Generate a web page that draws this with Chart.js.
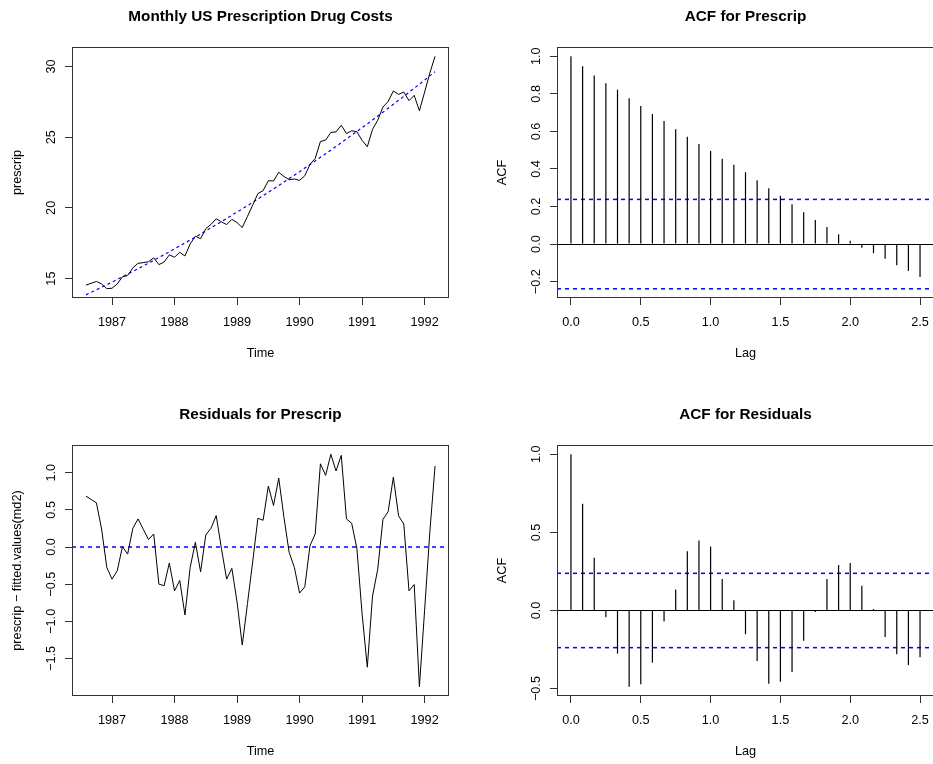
<!DOCTYPE html>
<html>
<head>
<meta charset="utf-8">
<title>Prescription drug costs</title>
<script src="https://cdn.jsdelivr.net/npm/chart.js@4.4.1/dist/chart.umd.min.js"></script>
<style>
    html, body { margin: 0; padding: 0; background: #fff; }
    body { position: relative; width: 933px; height: 764px; overflow: hidden; }
    canvas.panel { position: absolute; }
</style>
</head>
<body>
<canvas id="seriesChart" class="panel" width="485" height="398" style="left:0;top:0"></canvas>
<canvas id="acfChart" class="panel" width="485" height="398" style="left:485px;top:0"></canvas>
<canvas id="residChart" class="panel" width="485" height="398" style="left:0;top:398px"></canvas>
<canvas id="residAcfChart" class="panel" width="485" height="398" style="left:485px;top:398px"></canvas>
<script>
// monthly series, Aug 1986 .. Mar 1992
const startYear = 1986;
const startMonth = 8;

const prescrip = [
    14.54, 14.67, 14.80, 14.63, 14.29, 14.32, 14.62, 15.13, 15.22, 15.76, 16.08, 16.13,
    16.19, 16.47, 15.99, 16.17, 16.68, 16.51, 16.86, 16.60, 17.45, 18.00, 17.82, 18.53,
    18.84, 19.23, 19.01, 18.82, 19.19, 18.96, 18.61, 19.40, 20.19, 21.01, 21.22, 21.92,
    21.90, 22.51, 22.22, 21.99, 22.04, 21.94, 22.27, 23.08, 23.49, 24.69, 24.79, 25.33,
    25.37, 25.84, 25.25, 25.45, 25.38, 24.77, 24.32, 25.55, 26.19, 27.13, 27.52, 28.26,
    28.02, 28.19, 27.58, 27.95, 26.86, 28.18, 29.53, 30.71
];

// fitted values of md2
const fittedMd2 = [
    13.85, 14.03, 14.21, 14.39, 14.57, 14.75, 14.94, 15.13, 15.32, 15.51, 15.70, 15.90,
    16.09, 16.29, 16.49, 16.69, 16.90, 17.10, 17.31, 17.52, 17.73, 17.94, 18.15, 18.37,
    18.59, 18.81, 19.03, 19.25, 19.48, 19.70, 19.93, 20.16, 20.39, 20.63, 20.86, 21.10,
    21.34, 21.58, 21.82, 22.07, 22.31, 22.56, 22.81, 23.06, 23.31, 23.57, 23.82, 24.08,
    24.34, 24.60, 24.87, 25.13, 25.40, 25.67, 25.94, 26.21, 26.49, 26.76, 27.04, 27.32,
    27.60, 27.88, 28.17, 28.46, 28.74, 29.03, 29.33, 29.62
];

const residMd2 = [
    0.685, 0.64, 0.595, 0.243, -0.275, -0.432, -0.32, 0.005, -0.095, 0.252, 0.378, 0.239,
    0.10, 0.176, -0.50, -0.52, -0.216, -0.59, -0.45, -0.914, -0.275, 0.063, -0.333, 0.162,
    0.252, 0.423, -0.02, -0.432, -0.288, -0.74, -1.32, -0.76, -0.20, 0.387, 0.36, 0.82,
    0.559, 0.928, 0.40, -0.072, -0.275, -0.62, -0.536, 0.018, 0.176, 1.12, 0.964, 1.248,
    1.023, 1.234, 0.378, 0.32, -0.02, -0.90, -1.617, -0.66, -0.30, 0.37, 0.477, 0.94,
    0.42, 0.31, -0.59, -0.505, -1.88, -0.85, 0.20, 1.09
];

// autocorrelations, lags 0..30 months
const acfPrescrip = [
    1.0, 0.947, 0.898, 0.857, 0.822, 0.777, 0.736, 0.693, 0.656, 0.611, 0.572,
    0.533, 0.496, 0.455, 0.422, 0.383, 0.340, 0.298, 0.257, 0.212, 0.169,
    0.128, 0.091, 0.052, 0.018, -0.020, -0.048, -0.078, -0.112, -0.143, -0.175
];
const acfResid = [
    1.0, 0.683, 0.338, -0.043, -0.276, -0.488, -0.473, -0.334, -0.071, 0.135, 0.379,
    0.448, 0.409, 0.201, 0.066, -0.152, -0.323, -0.469, -0.456, -0.394, -0.193,
    -0.009, 0.201, 0.291, 0.304, 0.158, 0.009, -0.169, -0.281, -0.349, -0.300
];
const ciBound = 0.238;

const yearTicks = [1987, 1988, 1989, 1990, 1991, 1992];
const lagTicks = [0, 0.5, 1, 1.5, 2, 2.5];
const prescripTicks = [15, 20, 25, 30];
const residTicks = [-1.5, -1, -0.5, 0, 0.5, 1];
const acfPrescripTicks = [-0.2, 0, 0.2, 0.4, 0.6, 0.8, 1];
const acfResidTicks = [-0.5, 0, 0.5, 1];

const FONT = '"Liberation Sans", Arial, Helvetica, sans-serif';
const AXIS_SIZE = 12.7;
const BLUE = '#0000ff';
Chart.defaults.font.family = FONT;
Chart.defaults.font.size = AXIS_SIZE;
Chart.defaults.color = '#000';

const monthTime = i => startYear + (startMonth - 1 + i) / 12;
const minus = s => s.replace('-', '\u2212');
const fmt1 = v => minus(v.toFixed(1));
const fmt0 = v => minus(String(v));

// box around the plot region
const frame = {
    id: 'frame',
    afterDraw(chart) {
        const { ctx, chartArea: a } = chart;
        ctx.save();
        ctx.strokeStyle = '#333';
        ctx.lineWidth = 1;
        ctx.strokeRect(a.left + 0.5, a.top + 0.5, a.right - a.left - 1, a.bottom - a.top - 1);
        ctx.restore();
    }
};

// y tick labels written along the axis
function sideLabels(format) {
    return {
        id: 'sideLabels',
        afterDraw(chart) {
            const scale = chart.scales.y;
            const ctx = chart.ctx;
            ctx.save();
            ctx.font = AXIS_SIZE + 'px ' + FONT;
            ctx.fillStyle = '#000';
            ctx.textAlign = 'center';
            ctx.textBaseline = 'alphabetic';
            scale.ticks.forEach(t => {
                ctx.save();
                ctx.translate(scale.right - 17, scale.getPixelForValue(t.value));
                ctx.rotate(-Math.PI / 2);
                ctx.fillText(format(t.value), 0, 0);
                ctx.restore();
            });
            ctx.restore();
        }
    };
}

// horizontal reference lines (zero, confidence bounds)
function refLines(lines) {
    return {
        id: 'refLines',
        beforeDatasetsDraw(chart) {
            const { ctx, chartArea: a } = chart;
            const y = chart.scales.y;
            lines.forEach(l => {
                const py = l.dash ? y.getPixelForValue(l.value) : Math.round(y.getPixelForValue(l.value)) + 0.5;
                ctx.save();
                ctx.beginPath();
                ctx.rect(a.left, a.top, a.right - a.left, a.bottom - a.top);
                ctx.clip();
                ctx.strokeStyle = l.color;
                ctx.lineWidth = l.width || 1;
                ctx.setLineDash(l.dash || []);
                ctx.beginPath();
                ctx.moveTo(a.left, py);
                ctx.lineTo(a.right, py);
                ctx.stroke();
                ctx.restore();
            });
        }
    };
}

function xAxis(min, max, ticks, format, title) {
    return {
        type: 'linear',
        min: min,
        max: max,
        offset: false,
        afterBuildTicks: s => { s.ticks = ticks.map(v => ({ value: v })); },
        afterFit: s => { s.height = 100; },
        border: { display: false },
        grid: { offset: false, drawOnChartArea: false, drawTicks: true, tickLength: 7, tickColor: '#333' },
        ticks: { padding: 10.3, maxRotation: 0, autoSkip: false, callback: v => format(v) },
        title: { display: true, text: title, font: { size: AXIS_SIZE }, padding: { top: 0, bottom: 36.5 } }
    };
}

function yAxis(min, max, ticks, title) {
    return {
        type: 'linear',
        min: min,
        max: max,
        afterBuildTicks: s => { s.ticks = ticks.map(v => ({ value: v })); },
        afterFit: s => { s.width = 72; },
        border: { display: false },
        grid: { drawOnChartArea: false, drawTicks: true, tickLength: 7, tickColor: '#333' },
        ticks: { display: false },
        title: { display: true, text: title, font: { size: AXIS_SIZE }, padding: { top: 9.5, bottom: 0 } }
    };
}

function baseOptions(title) {
    return {
        responsive: false,
        animation: false,
        devicePixelRatio: 1,
        layout: { padding: { left: 0, right: 36, top: 0, bottom: 0 } },
        plugins: {
            legend: { display: false },
            tooltip: { enabled: false },
            title: {
                display: true,
                text: title,
                fullSize: false,
                color: '#000',
                font: { size: 15.3, weight: 'bold' },
                padding: { top: 7.9, bottom: 20.74 }
            }
        }
    };
}

function seriesPoints(values) {
    return values.map((v, i) => ({ x: monthTime(i), y: v }));
}

function lagPoints(values) {
    return values.map((v, k) => ({ x: k / 12, y: v }));
}

// top left: the series with its fitted trend
const seriesOpts = baseOptions('Monthly US Prescription Drug Costs');
seriesOpts.scales = {
    x: xAxis(1986.36, 1992.39, yearTicks, fmt0, 'Time'),
    y: yAxis(13.63, 31.37, prescripTicks, 'prescrip')
};
new Chart(document.getElementById('seriesChart'), {
    type: 'scatter',
    data: {
        datasets: [{
            data: seriesPoints(prescrip),
            showLine: true,
            borderColor: '#000',
            borderWidth: 1,
            pointRadius: 0,
            tension: 0
        }, {
            data: seriesPoints(fittedMd2),
            showLine: true,
            borderColor: BLUE,
            borderWidth: 1.2,
            borderDash: [3, 3],
            pointRadius: 0,
            tension: 0
        }]
    },
    options: seriesOpts,
    plugins: [frame, sideLabels(fmt0)]
});

// bottom left: residuals
const residOpts = baseOptions('Residuals for Prescrip');
residOpts.scales = {
    x: xAxis(1986.36, 1992.39, yearTicks, fmt0, 'Time'),
    y: yAxis(-2.005, 1.373, residTicks, 'prescrip \u2212 fitted.values(md2)')
};
new Chart(document.getElementById('residChart'), {
    type: 'scatter',
    data: {
        datasets: [{
            data: seriesPoints(residMd2),
            showLine: true,
            borderColor: '#000',
            borderWidth: 1,
            pointRadius: 0,
            tension: 0
        }]
    },
    options: residOpts,
    plugins: [frame, sideLabels(fmt1), refLines([{ value: 0, color: BLUE, width: 1.5, dash: [4, 4] }])]
});

function acfChart(id, title, values, yMin, yMax, ticks) {
    const opts = baseOptions(title);
    opts.scales = {
        x: xAxis(-0.1, 2.6, lagTicks, fmt1, 'Lag'),
        y: yAxis(yMin, yMax, ticks, 'ACF')
    };
    const lines = [
        { value: 0, color: '#000' },
        { value: ciBound, color: BLUE, width: 1.5, dash: [4, 4] },
        { value: -ciBound, color: BLUE, width: 1.5, dash: [4, 4] }
    ];
    return new Chart(document.getElementById(id), {
        type: 'bar',
        data: {
            datasets: [{
                data: lagPoints(values),
                backgroundColor: '#000',
                borderWidth: 0,
                barThickness: 1.2,
                inflateAmount: 0
            }]
        },
        options: opts,
        plugins: [frame, sideLabels(fmt1), refLines(lines)]
    });
}

acfChart('acfChart', 'ACF for Prescrip', acfPrescrip, -0.287, 1.0495, acfPrescripTicks);
acfChart('residAcfChart', 'ACF for Residuals', acfResid, -0.5475, 1.0595, acfResidTicks);
</script>
</body>
</html>
